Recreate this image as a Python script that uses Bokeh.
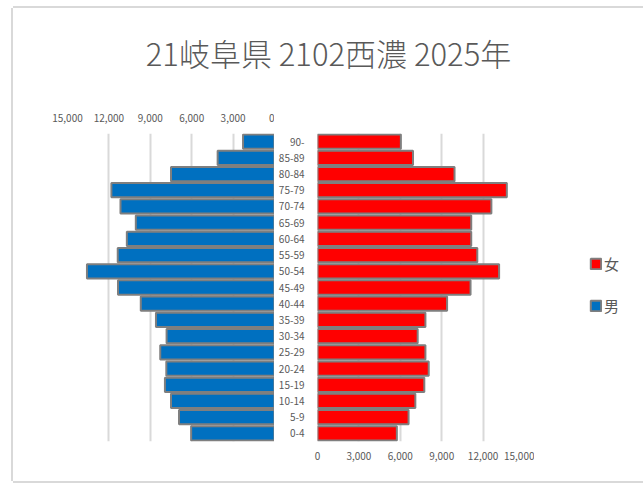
from bokeh.plotting import figure
from bokeh.models import (Range1d, FactorRange, FixedTicker, NumeralTickFormatter,
                          Legend, LegendItem, ColumnDataSource)
from bokeh.layouts import column, row
from bokeh.embed import file_html
from bokeh.resources import INLINE

title_text = "21岐阜県 2102西濃 2025年"
ages = ["0-4", "5-9", "10-14", "15-19", "20-24", "25-29", "30-34", "35-39", "40-44",
        "45-49", "50-54", "55-59", "60-64", "65-69", "70-74", "75-79", "80-84", "85-89", "90-"]
male = [6040, 6920, 7500, 7940, 7840, 8280, 7820, 8590, 9690, 11340,
        13590, 11360, 10700, 10050, 11160, 11820, 7500, 4120, 2280]
female = [5750, 6600, 7090, 7740, 8060, 7820, 7260, 7820, 9390, 11090,
          13160, 11580, 11140, 11140, 12600, 13720, 9930, 6920, 6040]
ticks = [0, 3000, 6000, 9000, 12000, 15000]
label_f = "女"
label_m = "男"

FONT = "Noto Sans CJK JP"
GREY = "#595959"
BLUE = "#0070C0"
RED = "#FF0000"
EDGE = "#7F7F7F"
GRID = "#D9D9D9"

src = ColumnDataSource(dict(age=ages, male=male, female=female))

# title strip
tp = figure(width=630, height=95, x_axis_type=None, y_axis_type=None,
            toolbar_location=None, output_backend="svg", title=title_text,
            min_border_left=0, min_border_right=0, min_border_top=66, min_border_bottom=0,
            outline_line_color=None)
tp.title.align = "center"
tp.title.offset = 14
tp.title.standoff = 0
tp.title.text_font = "Noto Sans CJK JP Light"
tp.title.text_font_size = "31px"
tp.title.text_font_style = "normal"
tp.title.text_color = GREY

yr = FactorRange(factors=ages, range_padding=0)


def style_x(p, standoff):
    ax = p.xaxis[0]
    ax.ticker = FixedTicker(ticks=ticks)
    ax.formatter = NumeralTickFormatter(format="0,0")
    ax.axis_line_color = None
    ax.major_tick_line_color = None
    ax.minor_tick_line_color = None
    ax.major_label_text_font = FONT
    ax.major_label_text_font_size = "10px"
    ax.major_label_text_color = GREY
    ax.major_label_standoff = standoff
    p.xgrid.grid_line_color = GRID
    p.xgrid.grid_line_width = 2
    p.ygrid.visible = False


# male (left)
mp = figure(width=261, height=378, x_range=Range1d(15000, 0), y_range=yr,
            x_axis_location="above", y_axis_location=None,
            toolbar_location=None, output_backend="svg",
            min_border_left=54, min_border_right=0, min_border_top=30, min_border_bottom=40,
            outline_line_color=None)
mp.hbar(y="age", left=0, right="male", height=0.88, source=src,
        fill_color=BLUE, line_color=EDGE, line_width=2)
style_x(mp, 6)

# female (right)
fp = figure(width=260, height=378, x_range=Range1d(0, 15000), y_range=yr,
            toolbar_location=None, output_backend="svg",
            min_border_left=43, min_border_right=10, min_border_top=30, min_border_bottom=40,
            outline_line_color=None)
fp.hbar(y="age", left=0, right="female", height=0.88, source=src,
        fill_color=RED, line_color=EDGE, line_width=2)
style_x(fp, 4)
ya = fp.yaxis[0]
ya.axis_line_color = None
ya.major_tick_line_color = None
ya.minor_tick_line_color = None
ya.major_tick_out = 0
ya.major_tick_in = 0
ya.minor_tick_out = 0
ya.major_label_text_font = FONT
ya.major_label_text_font_size = "10px"
ya.major_label_text_color = GREY
ya.major_label_standoff = 13

# legend strip: its own range holds none of the age factors, so only legend glyphs show
lp = figure(width=109, height=378, x_range=Range1d(15000, 16000),
            y_range=FactorRange(factors=["legend"]),
            x_axis_type=None, y_axis_type=None,
            toolbar_location=None, output_backend="svg",
            min_border_left=0, min_border_right=0, min_border_top=0, min_border_bottom=0,
            outline_line_color=None)
lf = lp.hbar(y="age", left="female", right="female", height=0.88, source=src,
             fill_color=RED, line_color=EDGE, line_width=2)
lm = lp.hbar(y="age", left="male", right="male", height=0.88, source=src,
             fill_color=BLUE, line_color=EDGE, line_width=2)
legend = Legend(items=[LegendItem(label=label_f, renderers=[lf], index=0),
                       LegendItem(label=label_m, renderers=[lm], index=0)],
                location=(55, 125), orientation="vertical",
                glyph_width=13, glyph_height=13, label_standoff=2, spacing=21,
                padding=0, margin=0, label_height=20,
                border_line_color=None, background_fill_alpha=0,
                label_text_font=FONT, label_text_font_size="15px", label_text_color=GREY)
lp.add_layout(legend)

layout = column(tp, row(mp, fp, lp), margin=(8, 0, 0, 13),
                styles={"box-shadow": "-2px 0 0 0 #D9D9D9, 0 -2px 0 0 #D9D9D9, 0 2px 0 0 #D9D9D9"})

open("out.html", "w").write(file_html(layout, INLINE))
